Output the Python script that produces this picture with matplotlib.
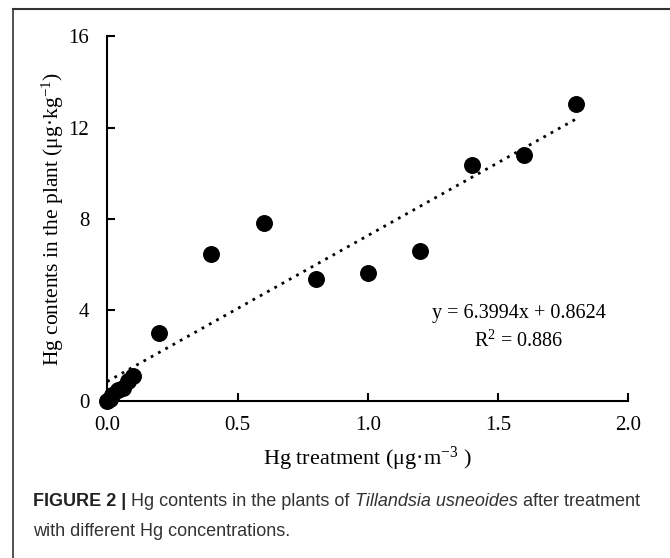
import matplotlib
matplotlib.use("Agg")
import matplotlib.pyplot as plt
from matplotlib.lines import Line2D
import numpy as np

# Data
hg_treatment = [0.0, 0.01, 0.02, 0.04, 0.06, 0.08, 0.10, 0.2, 0.4, 0.6, 0.8, 1.0, 1.2, 1.4, 1.6, 1.8]
hg_content = [0.0, 0.1, 0.25, 0.5, 0.6, 0.9, 1.1, 3.0, 6.47, 7.82, 5.36, 5.60, 6.60, 10.36, 10.81, 13.02]
slope = 6.3994
intercept = 0.8624
trend_x = [0.0, 1.8]
x_ticks = [0.0, 0.5, 1.0, 1.5, 2.0]
x_tick_labels = ["0.0", "0.5", "1.0", "1.5", "2.0"]
y_ticks = [0, 4, 8, 12, 16]
y_tick_labels = ["0", "4", "8", "12", "16"]

plt.rcParams['font.family'] = ['Liberation Serif', 'DejaVu Serif']
plt.rcParams['mathtext.fontset'] = 'custom'
plt.rcParams['mathtext.rm'] = 'Liberation Serif'
plt.rcParams['mathtext.it'] = 'Liberation Serif:italic'

fig = plt.figure(figsize=(6.7, 5.58), dpi=100)
ax = fig.add_axes([0.160, 0.281, 0.778, 0.654])

ax.scatter(hg_treatment, hg_content, s=125, color='black', zorder=3, clip_on=False)
ty = [slope * x + intercept for x in trend_x]
ax.plot(trend_x, ty, linestyle=(0, (1, 2.0)), color='black', lw=2.0, zorder=2)

ax.set_xlim(0, 2.0)
ax.set_ylim(0, 16)
ax.set_xticks(x_ticks)
ax.set_xticklabels(x_tick_labels)
ax.set_yticks(y_ticks)
ax.set_yticklabels(y_tick_labels)
ax.tick_params(direction='in', length=6, width=1.5, labelsize=15, colors='black')
ax.tick_params(axis='x', pad=11)
ax.tick_params(axis='y', pad=13)
for s in ['top', 'right']:
    ax.spines[s].set_visible(False)
for s in ['left', 'bottom']:
    ax.spines[s].set_linewidth(1.5)

ax.set_xlabel(r"Hg treatment (μg·m$^{\mathregular{-3}}$ )", fontsize=16, labelpad=7)
ax.set_ylabel(r"Hg contents in the plant (μg·kg$^{\mathregular{-1}}$)", fontsize=15.5, labelpad=2)

ax.text(1.578, 3.85, "y = 6.3994x + 0.8624", fontsize=14.5, ha='center', va='center')
ax.text(1.578, 2.65, r"R$^{\mathregular{2}}$ = 0.886", fontsize=14.5, ha='center', va='center')

# frame lines
fig.add_artist(Line2D([13/670, 1.0], [1 - 9/558, 1 - 9/558], color='#333333', lw=1.5, transform=fig.transFigure))
fig.add_artist(Line2D([13/670, 13/670], [0.0, 1 - 9/558], color='#333333', lw=1.2, transform=fig.transFigure))

cap_font = ['Liberation Sans', 'DejaVu Sans']
cap_size = 13
y1 = 1 - 502/558
fig.canvas.draw()
r = fig.canvas.get_renderer()
x = 33/670
pieces = [("FIGURE 2 | ", dict(fontweight='bold', color='#222222')),
          ("Hg contents in the plants of ", dict(color='#333333')),
          ("Tillandsia usneoides", dict(style='italic', color='#333333')),
          (" after treatment", dict(color='#333333'))]
for txt, kw in pieces:
    t = fig.text(x, y1, txt, fontsize=cap_size, family=cap_font, va='center', ha='left', **kw)
    ex = t.get_window_extent(renderer=r)
    x = ex.x1 / fig.bbox.width
fig.text(33/670, 1 - 532/558, "with different Hg concentrations.", fontsize=cap_size, color='#333333',
         family=cap_font, va='center', ha='left')

fig.savefig("out.png", dpi=100)
